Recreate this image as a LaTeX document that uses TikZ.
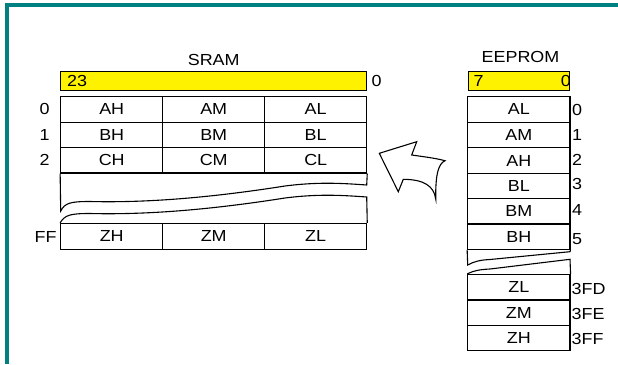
\documentclass[tikz,border=0pt]{standalone}
\usepackage{fontspec}
\setmainfont{Liberation Sans}[FakeStretch=1.12]
\newcommand\txtsize{\fontsize{16}{18}\selectfont}
\definecolor{frameteal}{RGB}{0,128,128}
\begin{document}
\begin{tikzpicture}[x=1pt,y=-1pt,
  every node/.style={font=\txtsize, inner sep=0pt},
  cell/.style={draw=black, line width=1.1pt, rectangle, minimum width=102pt, minimum height=25.5pt},
  ecell/.style={cell, minimum width=102.3pt},
  ybar/.style={draw=black, line width=1.1pt, fill=yellow, rectangle, minimum height=19.2pt},
  wave/.style={draw=black, line width=1.1pt},
  lbl/.style={text=black},
  rlbl/.style={text=black, anchor=west},
  bigarrow/.style={draw=black, line width=1.1pt, line join=miter}]
\useasboundingbox (0,0) rectangle (618,364);
\fill[white] (0,0) rectangle (618,364);
% frame
\fill[frameteal] (4.7,3.3) rectangle (618,6.8);
\fill[frameteal] (4.7,3.3) rectangle (8.7,364);

% ---------- SRAM ----------
\node[lbl] (sramtitle) at (213.7,60) {SRAM};
\node[ybar, minimum width=306pt] (sbar) at (213.7,81.1) {};
\node[rlbl] (s23) at (67,81) {23};
\node[rlbl] (s0r) at (371.5,81) {0};

\node[cell] (sAH) at (111.7,109.4) {AH};
\node[cell] (sAM) at (213.7,109.4) {AM};
\node[cell] (sAL) at (315.7,109.4) {AL};
\node[cell] (sBH) at (111.7,134.8) {BH};
\node[cell] (sBM) at (213.7,134.8) {BM};
\node[cell] (sBL) at (315.7,134.8) {BL};
\node[cell] (sCH) at (111.7,160.2) {CH};
\node[cell] (sCM) at (213.7,160.2) {CM};
\node[cell] (sCL) at (315.7,160.2) {CL};
\node[cell, minimum height=25.7pt] (sZH) at (111.7,236.2) {ZH};
\node[cell, minimum height=25.7pt] (sZM) at (213.7,236.2) {ZM};
\node[cell, minimum height=25.7pt] (sZL) at (315.7,236.2) {ZL};

\node[lbl] (sr0) at (44.5,109.4) {0};
\node[lbl] (sr1) at (44.5,134.8) {1};
\node[lbl] (sr2) at (44.5,160.2) {2};
\node[lbl] (srFF) at (45.5,237) {FF};

% SRAM break
\draw[wave] (sCH.south west) -- (60.7,211)
  .. controls (65,203) and (70,201.5) .. (90,201.5)
  .. controls (150,203) and (215,197) .. (285,186)
  .. controls (320,181.5) and (345,183.5) .. (366.7,185)
  -- (sCL.south east);
\draw[wave] (sZH.north west)
  .. controls (65,215) and (70,213.5) .. (90,213.5)
  .. controls (150,215) and (215,209) .. (285,198)
  .. controls (320,193.5) and (345,195.5) .. (366.7,197)
  -- (sZL.north east);

% ---------- EEPROM ----------
\node[lbl] (eetitle) at (520.5,57) {EEPROM};
\node[ybar, minimum width=101pt] (ebar) at (518.8,81.1) {};
\node[rlbl] (e7) at (473.5,81) {7};
\node[text=black, anchor=east] (e0) at (571,81) {0};

\node[ecell] (eAL) at (518.85,109.4) {AL};
\node[ecell] (eAM) at (518.85,134.8) {AM};
\node[ecell] (eAH) at (518.85,160.5) {AH};
\node[ecell] (eBL) at (518.85,185.8) {BL};
\node[ecell] (eBM) at (518.85,211.2) {BM};
\node[ecell] (eBH) at (518.85,236.6) {BH};
\node[ecell] (eZL) at (518.85,287.2) {ZL};
\node[ecell] (eZM) at (518.85,312.7) {ZM};
\node[ecell] (eZH) at (518.85,338) {ZH};

\node[rlbl] (er0) at (572,110) {0};
\node[rlbl] (er1) at (572,135) {1};
\node[rlbl] (er2) at (572,159.5) {2};
\node[rlbl] (er3) at (572,184) {3};
\node[rlbl] (er4) at (572,209.5) {4};
\node[rlbl] (er5) at (572,239.5) {5};
\node[rlbl] (er3FD) at (571.5,288.5) {3FD};
\node[rlbl] (er3FE) at (571.5,313.5) {3FE};
\node[rlbl] (er3FF) at (571.5,338.5) {3FF};

% EEPROM break
\draw[wave] (eBH.south west) -- (467.7,265)
  .. controls (474,261.5) and (480,260) .. (490,259.5)
  -- (570,251.7) -- (eBH.south east);
\draw[wave] (eZL.north west)
  .. controls (474,270.5) and (480,269.5) .. (490,269)
  -- (570,259.3) -- (eZL.north east);

% ---------- arrow ----------
\draw[bigarrow] (379.3,153.3) -- (416.7,141.7) -- (411.7,155)
  .. controls (422,156.5) and (435,158) .. (445,160.7)
  .. controls (438,164) and (435.5,175) .. (435.7,199)
  .. controls (434,186) and (424,179.5) .. (403.3,179.3)
  -- (398.3,191.7) -- cycle;
\end{tikzpicture}
\end{document}
